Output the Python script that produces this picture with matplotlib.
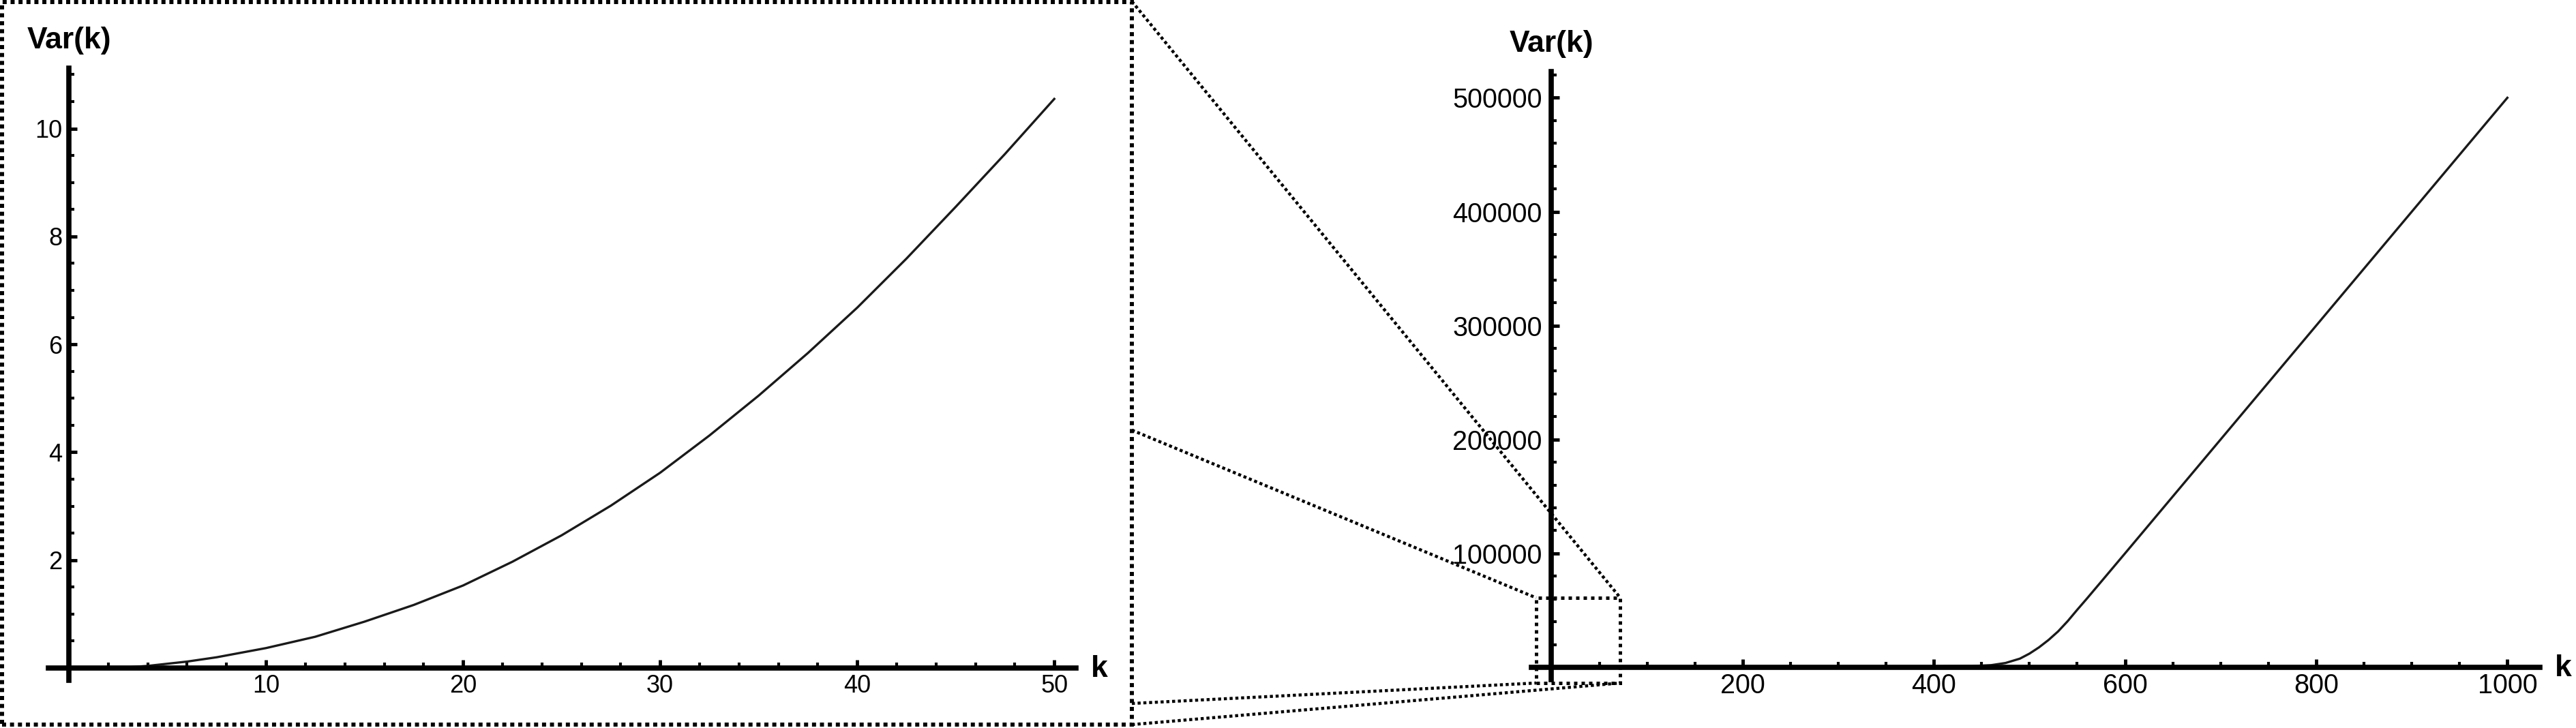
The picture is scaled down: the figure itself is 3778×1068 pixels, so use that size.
import matplotlib
matplotlib.use('Agg')
import matplotlib.pyplot as plt
from matplotlib.patches import Rectangle
from matplotlib.lines import Line2D
from matplotlib.ticker import FixedLocator, FuncFormatter

plt.rcParams['font.family'] = ['Liberation Sans', 'DejaVu Sans']

# zoomed view (k up to 50)
k_small = [2.5, 4, 5, 6, 7.5, 10, 12.5, 15, 17.5, 20, 22.5, 25, 27.5, 30,
           32.5, 35, 37.5, 40, 42.5, 45, 47.5, 50]
var_small = [0.0, 0.04, 0.08, 0.12, 0.2, 0.37, 0.58, 0.86, 1.17, 1.53, 1.97, 2.46, 3.01, 3.62,
             4.31, 5.05, 5.84, 6.68, 7.59, 8.55, 9.53, 10.55]

# full view (k up to 1000)
k_full = [0, 100, 200, 300, 400, 440, 460, 475, 490, 500, 510, 520, 530, 540,
          550, 560, 575, 600, 700, 800, 900, 1000]
var_full = [0, 46, 184, 414, 740, 1100, 1900, 3800, 7600, 12000, 17500, 24000, 31500, 40500,
            50500, 60200, 75100, 100000, 200000, 300000, 400000, 500000]

small_xticks = [10, 20, 30, 40, 50]
small_yticks = [2, 4, 6, 8, 10]
full_xticks = [200, 400, 600, 800, 1000]
full_yticks = [100000, 200000, 300000, 400000, 500000]

W, H = 3778, 1068
fig = plt.figure(figsize=(W / 100, H / 100), dpi=100)


def px_axes(x0, y0, x1, y1):
    return fig.add_axes([x0 / W, 1 - y1 / H, (x1 - x0) / W, (y1 - y0) / H])


def style(ax, xpad, ypad, size):
    ax.spines['top'].set_visible(False)
    ax.spines['right'].set_visible(False)
    ax.spines['left'].set_position(('data', 0))
    ax.spines['bottom'].set_position(('data', 0))
    for s in ['left', 'bottom']:
        ax.spines[s].set_linewidth(5.5)
    ax.tick_params(which='both', direction='in', color='black', labelsize=size)
    ax.tick_params(which='major', length=8.5, width=3.5)
    ax.tick_params(which='minor', length=5.5, width=3)
    ax.tick_params(axis='x', pad=xpad)
    ax.tick_params(axis='y', pad=ypad)
    ax.annotate('Var(k)', xy=(0, 1), xycoords=('data', 'axes fraction'),
                xytext=(0, 29), textcoords='offset points',
                ha='center', va='center', fontsize=32, fontweight='bold')
    ax.annotate('k', xy=(1, 0), xycoords=('axes fraction', 'data'),
                xytext=(25, -9.4), textcoords='offset points',
                ha='center', va='baseline', fontsize=32, fontweight='bold')


# left: zoomed panel
ax1 = px_axes(71, 100, 1578, 998)
ax1.plot(k_small, var_small, color='#1a1a1a', lw=2.4)
ax1.set_xlim(-1.04, 51.1)
ax1.set_ylim(-0.227, 11.12)
ax1.xaxis.set_major_locator(FixedLocator(small_xticks))
ax1.yaxis.set_major_locator(FixedLocator(small_yticks))
ax1.xaxis.set_minor_locator(FixedLocator([v for v in range(2, 51, 2) if v % 10]))
ax1.yaxis.set_minor_locator(FixedLocator([v / 2 for v in range(1, 23) if v % 4]))
style(ax1, 6.5, 7, 26)

# right: full panel
ax2 = px_axes(2246, 105, 3725, 997)
ax2.plot(k_full, var_full, color='#1a1a1a', lw=2.4)
ax2.set_xlim(-21, 1034)
ax2.set_ylim(-10800, 523000)
ax2.xaxis.set_major_locator(FixedLocator(full_xticks))
ax2.yaxis.set_major_locator(FixedLocator(full_yticks))
ax2.xaxis.set_minor_locator(FixedLocator([v for v in range(50, 1001, 50) if v % 200]))
ax2.yaxis.set_minor_locator(FixedLocator([v for v in range(20000, 521000, 20000) if v % 100000]))
ax2.yaxis.set_major_formatter(FuncFormatter(lambda v, p: f'{int(v)}'))
style(ax2, 6, 10, 28.5)

# dotted frame around the zoomed panel
fig.add_artist(Rectangle((3 / W, 1 - 1063 / H), 1657 / W, 1060 / H,
                         transform=fig.transFigure, fill=False, ec='black',
                         lw=4.3, ls=(0, (1, 0.95))))

# zoom box on the full panel
bx0, bx1, by0, by1 = -16, 72, -13800, 61000
ax2.add_patch(Rectangle((bx0, by0), bx1 - bx0, by1 - by0, fill=False, ec='black',
                        lw=3.6, ls=(0, (1, 1.2)), clip_on=False, zorder=5))

# dotted links from the frame to the zoom box
to_fig = fig.transFigure.inverted()
links = [((1660, 2), (bx1, by1)),
         ((1660, 631), (bx0, by1)),
         ((1660, 1032), (bx0, by0)),
         ((1660, 1063), (bx1, by0))]
for (px, py), xyb in links:
    fx, fy = to_fig.transform(ax2.transData.transform(xyb))
    fig.add_artist(Line2D([px / W, fx], [1 - py / H, fy], transform=fig.transFigure,
                          color='black', lw=3.2, ls=(0, (1, 0.9))))

fig.savefig('out.png', dpi=100)
